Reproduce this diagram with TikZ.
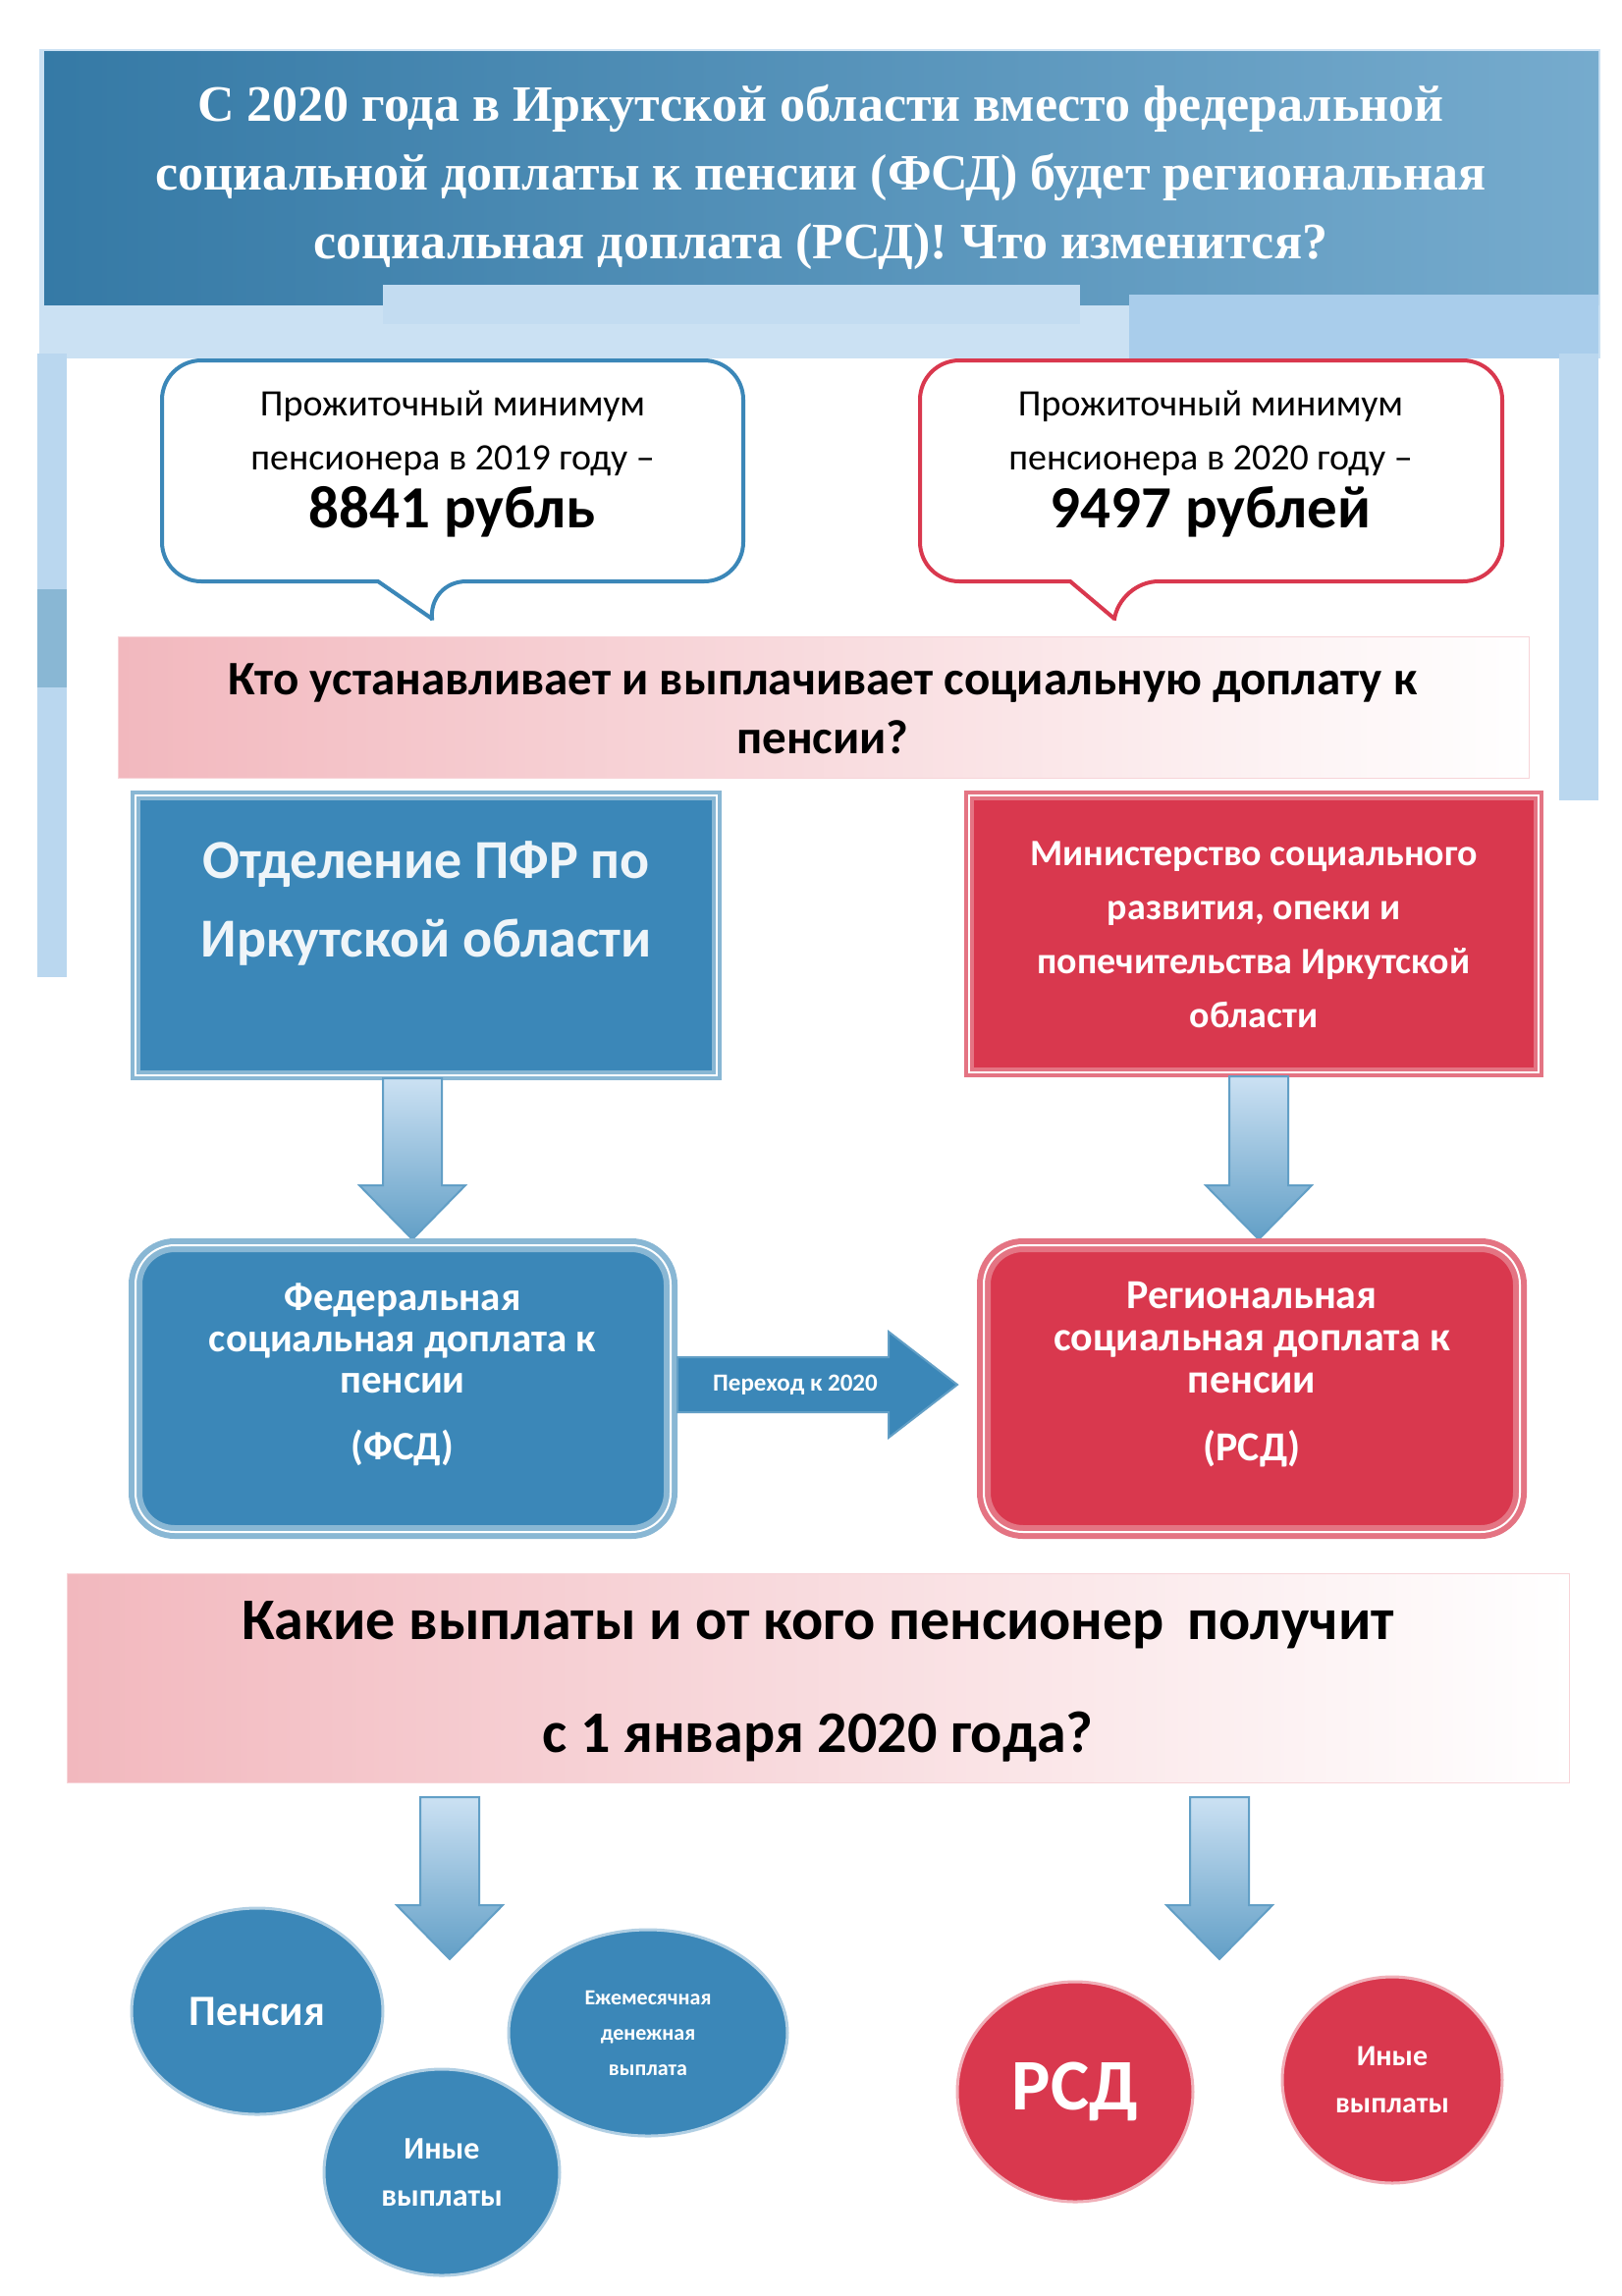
\documentclass[tikz,border=0pt]{standalone}
\usepackage{fontspec}
\setmainfont{Carlito}
\newfontfamily\titlefont{Liberation Serif}
\usetikzlibrary{arrows.meta,shapes.geometric}
\definecolor{pblue}{HTML}{3B87B8}
\definecolor{pred}{HTML}{D9384E}
\definecolor{lblue}{HTML}{A9CDEB}
\definecolor{pink}{HTML}{F2B8BE}
\tikzset{
  bluebox/.style={draw=pblue!60,line width=4pt,fill=pblue,double=white,double distance=2pt},
  redbox/.style={draw=pred!70,line width=4pt,fill=pred,double=white,double distance=2pt},
  wtxt/.style={text=white,font=\bfseries,align=center},
  arrshape/.style={draw=pblue!80,line width=2pt,top color=lblue!60,bottom color=pblue!80},
  circb/.style={ellipse,fill=pblue,draw=pblue!40,line width=3pt,wtxt},
  circr/.style={ellipse,fill=pred,draw=pred!40,line width=3pt,wtxt},
}
\newcommand\dnarr[4]{\draw[arrshape] ({#1-30},#2) -- ({#1+30},#2) -- ({#1+30},{#3-55}) -- ({#1+54},{#3-55}) -- (#1,#3) -- ({#1-54},{#3-55}) -- ({#1-30},{#3-55}) -- cycle; \coordinate (#4) at (#1,#3);}
\begin{document}
\begin{tikzpicture}[x=1pt,y=-1pt]
\useasboundingbox (0,0) rectangle (1652,2338);
\fill[white] (0,0) rectangle (1652,2338);
% header
\fill[lblue!60] (40,50) rectangle (1630,365);
\shade[left color=pblue!90!black,right color=pblue!70] (45,52) rectangle (1628,310);
\fill[lblue!70] (390,290) rectangle (1100,330);
\fill[lblue] (1150,300) rectangle (1628,365);
\fill[lblue!80] (1588,360) rectangle (1628,815);
\fill[lblue!80] (38,360) rectangle (68,995);
\fill[pblue!60] (38,600) rectangle (68,700);
\node (title) at (836,180) [text=white,align=center,font=\titlefont\bfseries\fontsize{52}{70}\selectfont] {С 2020 года в Иркутской области вместо федеральной\\социальной доплаты к пенсии (ФСД) будет региональная\\социальная доплата (РСД)! Что изменится?};
% bubbles
\draw[pblue,line width=4pt,fill=white,rounded corners=40pt] (165,367) -- (757,367) -- (757,592) -- (435,592)[sharp corners] -- (440,630) -- (385,592)[rounded corners=40pt] -- (165,592) -- cycle;
\node (b1) at (461,472) [align=center,font=\fontsize{38}{55}\selectfont] {Прожиточный минимум\\пенсионера в 2019 году –\\[4pt]{\bfseries\fontsize{61}{66}\selectfont 8841 рубль}};
\draw[pred,line width=4pt,fill=white,rounded corners=40pt] (937,367) -- (1530,367) -- (1530,592) -- (1140,592)[sharp corners] -- (1135,630) -- (1090,592)[rounded corners=40pt] -- (937,592) -- cycle;
\node (b2) at (1233,472) [align=center,font=\fontsize{38}{55}\selectfont] {Прожиточный минимум\\пенсионера в 2020 году –\\[4pt]{\bfseries\fontsize{61}{66}\selectfont 9497 рублей}};
% banner 1
\shade[left color=pink,right color=white,draw=pink!60] (120,648) rectangle (1557,792);
\node (q1) at (838,722) [align=center,font=\bfseries\fontsize{49}{60}\selectfont] {Кто устанавливает и выплачивает социальную доплату к\\пенсии?};
% top boxes
\draw[bluebox] (138,810) rectangle (730,1095);
\node (pfr) at (434,920) [wtxt,text=white!92!pblue,font=\bfseries\fontsize{56}{80}\selectfont] {Отделение ПФР по\\Иркутской области};
\draw[redbox] (987,810) rectangle (1567,1092);
\node (min) at (1277,952) [wtxt,font=\bfseries\fontsize{38}{55}\selectfont] {Министерство социального\\развития, опеки и\\попечительства Иркутской\\области};
% arrows
\dnarr{420}{1098}{1262}{a1}
\dnarr{1282}{1096}{1262}{a2}
% mid boxes
\draw[bluebox,rounded corners=40pt,line width=6pt] (138,1268) rectangle (683,1560);
\node (fsd) at (410,1400) [wtxt,font=\bfseries\fontsize{41}{42}\selectfont] {Федеральная\\социальная доплата к\\пенсии\\[26pt](ФСД)};
\draw[redbox,rounded corners=40pt,line width=6pt] (1002,1268) rectangle (1548,1560);
\node (rsd) at (1275,1400) [wtxt,font=\bfseries\fontsize{42}{43}\selectfont] {Региональная\\социальная доплата к\\пенсии\\[26pt](РСД)};
\draw[draw=pblue!80,line width=2pt,fill=pblue] (690,1382) -- (905,1382) -- (905,1356) -- (975,1410) -- (905,1464) -- (905,1438) -- (690,1438) -- cycle;
\node (trt) at (810,1410) [wtxt,font=\bfseries\fontsize{25}{30}\selectfont] {Переход к 2020};
% banner 2
\shade[left color=pink,right color=white,draw=pink!60] (68,1602) rectangle (1598,1815);
\node (q2) at (833,1712) [align=center,font=\bfseries\fontsize{60}{115}\selectfont] {Какие выплаты и от кого пенсионер\, получит\\с 1 января 2020 года?};
\dnarr{458}{1830}{1995}{a3}
\dnarr{1242}{1830}{1995}{a4}
% ellipses
\node (e1) [circb,minimum width=256pt,minimum height=210pt,font=\bfseries\fontsize{44}{48}\selectfont] at (262,2048) {Пенсия};
\node (e2) [circb,minimum width=284pt,minimum height=210pt,font=\bfseries\fontsize{22}{36}\selectfont] at (660,2070) {Ежемесячная\\денежная\\выплата};
\node (e3) [circb,minimum width=240pt,minimum height=210pt,font=\bfseries\fontsize{32}{48}\selectfont] at (450,2212) {Иные\\выплаты};
\node (e4) [circr,minimum width=240pt,minimum height=224pt,font=\bfseries\fontsize{74}{80}\selectfont] at (1095,2130) {РСД};
\node (e5) [circr,minimum width=224pt,minimum height=210pt,font=\bfseries\fontsize{30}{48}\selectfont] at (1418,2118) {Иные\\выплаты};
\end{tikzpicture}
\end{document}
